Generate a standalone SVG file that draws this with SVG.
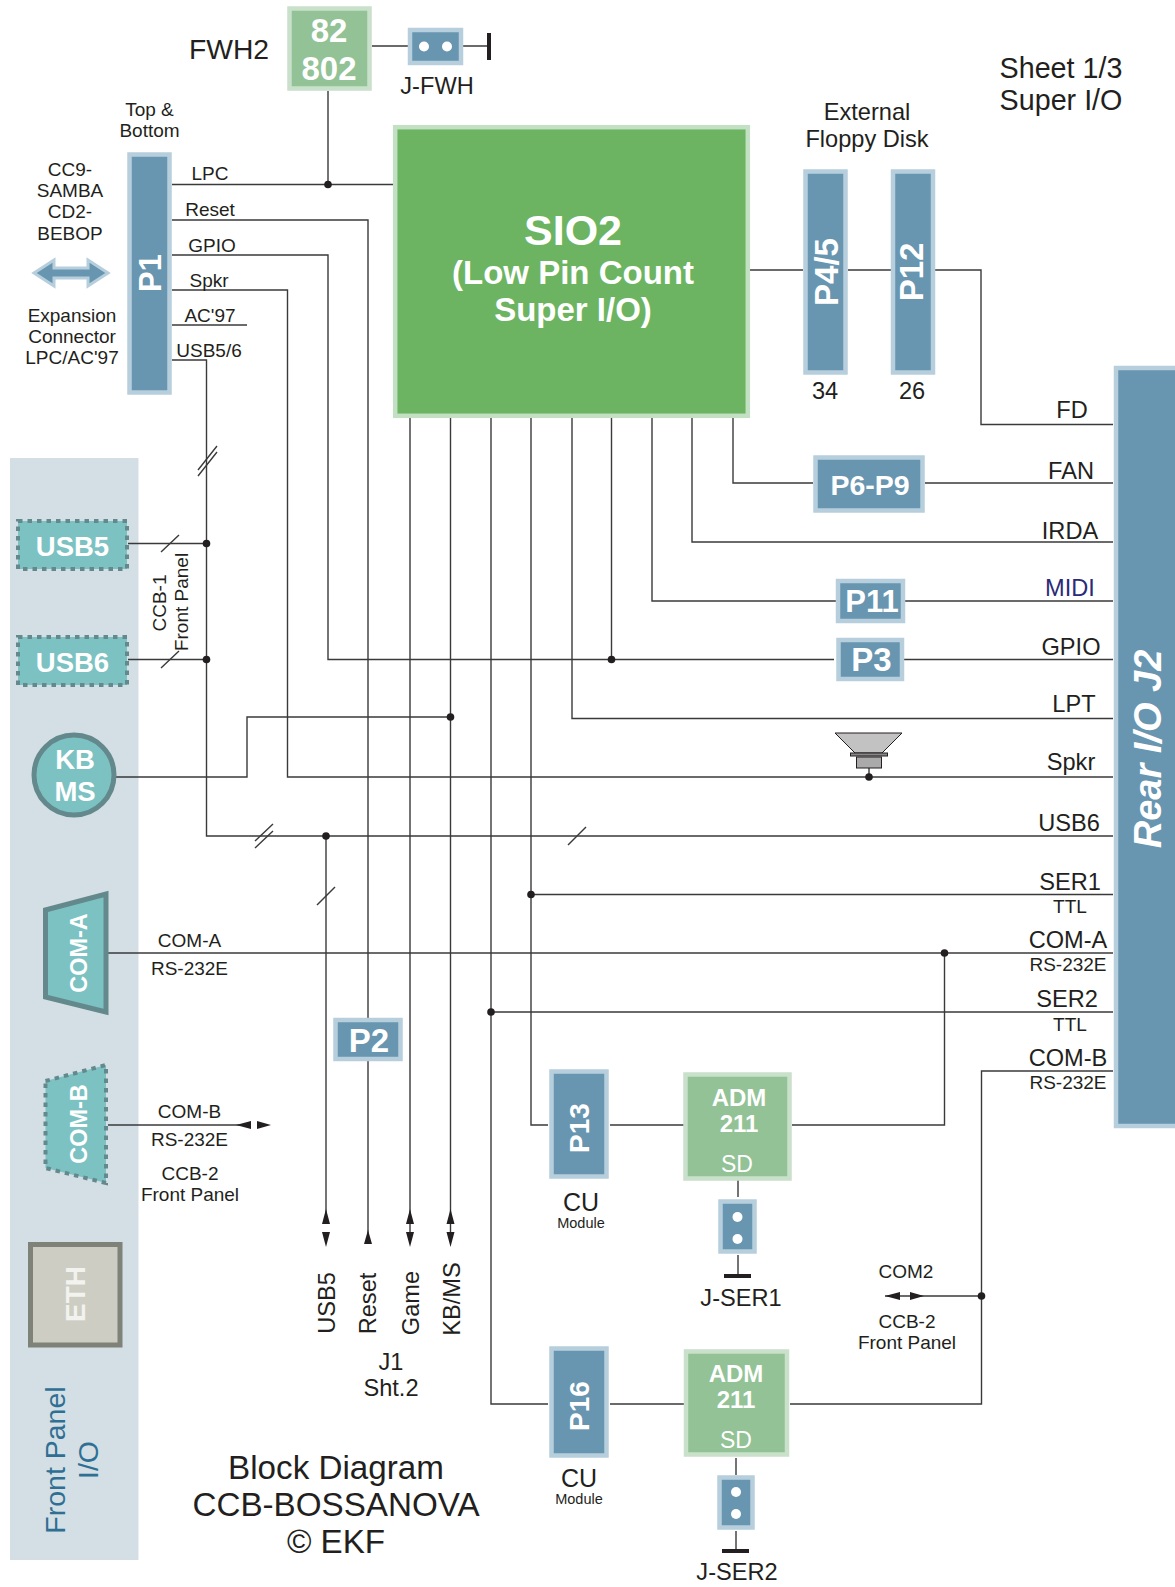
<svg xmlns="http://www.w3.org/2000/svg" width="1175" height="1587" viewBox="0 0 1175 1587">
<style>
text{font-family:"Liberation Sans",Arial,sans-serif;fill:#231f20;text-anchor:middle}
.w{fill:#fff;font-weight:bold}
.t19{font-size:19px}
.t23{font-size:23.600px}
.conn{fill:none;stroke:#3a3a3a;stroke-width:1.4}
.blue{fill:#6895b0;stroke:#b7cfdd;stroke-width:4.500}
.green{fill:#92c295;stroke:#c9e0cb;stroke-width:4.500}
.teal{fill:#7cc2c2;stroke:#64898c;stroke-width:5}
.tealdot{fill:#7cc2c2;stroke:#64898c;stroke-width:4;stroke-dasharray:4.500 5}
.dot{fill:#231f20}
.pin{fill:#fff}
</style>
<rect id="front-panel-bg" x="10" y="458" width="128.500" height="1102" fill="#d3dfe5"/>
<g id="connectors" class="conn">
<path d="M172 184.500H393M328 91V184.500"/>
<path d="M172 220H368V1240"/>
<path d="M172 255H328V659.500H834"/>
<path d="M172 290H287.500V777H1113"/>
<path d="M172 325H247"/>
<path d="M172 360H206.500V836H1113"/>
<path d="M128 543.500H206.500M128 659.500H206.500"/>
<path d="M116 777H247V717H450.500"/>
<path d="M410 418V1240M450.500 418V1240"/>
<path d="M491 418V1404H548M491 1012H1113"/>
<path d="M531 418V1125H548M531 894.500H1113"/>
<path d="M572 418V718.500H1113"/>
<path d="M611.500 418V659.500"/>
<path d="M652 418V601H836M904 601H1113"/>
<path d="M692 418V542H1113"/>
<path d="M733 418V483H813M925 483H1113"/>
<path d="M904 659.500H1113"/>
<path d="M750 270H803M848 270H891M935 270H981V424.500H1113"/>
<path d="M108 953H1113"/>
<path d="M108 1125H248"/>
<path d="M326 836V1218"/>
<path d="M610 1125H684M792 1125H944.500V953"/>
<path d="M610 1404H684M790 1404H981.500V1071H1113"/>
<path d="M885 1296H981.500"/>
<path d="M372 46H408M463 46H489"/>
<path d="M738 1180V1197M738 1255V1278M736 1458V1475M736 1531V1552"/>
<path d="M869 768V777"/>
<path d="M198 470L217 446M198 476L217 452"/>
<path d="M161 552L179 535M161 668L179 651"/>
<path d="M255 841L273 824M255 848L273 831"/>
<path d="M568 845L586 827"/>
<path d="M317 905L335 887"/>
</g>
<g id="junctions">
<circle class="dot" cx="328" cy="184.500" r="3.800"/>
<circle class="dot" cx="206.500" cy="543.500" r="3.800"/>
<circle class="dot" cx="206.500" cy="659.500" r="3.800"/>
<circle class="dot" cx="611.500" cy="659.500" r="3.800"/>
<circle class="dot" cx="450.500" cy="717" r="3.800"/>
<circle class="dot" cx="869" cy="777" r="3.800"/>
<circle class="dot" cx="326" cy="836" r="3.800"/>
<circle class="dot" cx="531" cy="894.500" r="3.800"/>
<circle class="dot" cx="944.500" cy="953" r="3.800"/>
<circle class="dot" cx="491" cy="1012" r="3.800"/>
<circle class="dot" cx="981.500" cy="1296" r="3.800"/>
</g>
<g id="arrowheads">
<path class="dot" d="M236 1125L251 1121V1129ZM271 1125L257 1121V1129Z"/>
<path class="dot" d="M885 1296L900 1292V1300ZM924 1296L910 1292V1300Z"/>
<path class="dot" d="M326 1209L322 1224H330ZM326 1247L322 1232H330Z"/>
<path class="dot" d="M368 1230L364 1244H372Z"/>
<path class="dot" d="M410 1209L406 1224H414ZM410 1247L406 1232H414Z"/>
<path class="dot" d="M450.500 1209L446.500 1224H454.500ZM450.500 1247L446.500 1232H454.500Z"/>
</g>
<g id="n-82802"><rect class="green" x="289.500" y="8.500" width="80" height="80"/><text class="w" x="329" y="42" font-size="33">82</text><text class="w" x="329" y="79.500" font-size="33">802</text></g>
<text x="229" y="59" font-size="28.300">FWH2</text>
<g id="n-jfwh"><rect class="blue" x="410" y="30" width="51" height="33"/><circle class="pin" cx="424" cy="46.500" r="5"/><circle class="pin" cx="447" cy="46.500" r="5"/><path d="M489 33V60" stroke="#231f20" stroke-width="4" fill="none"/><text class="t23" x="437" y="94">J-FWH</text></g>
<g id="n-p1"><rect class="blue" x="129.500" y="154.500" width="40" height="238"/><text class="w" transform="translate(161,273) rotate(-90)" font-size="31">P1</text></g>
<text class="t19" x="149.500" y="116">Top &amp;</text><text class="t19" x="149.500" y="137">Bottom</text>
<text class="t19" x="70" y="176">CC9-</text><text class="t19" x="70" y="197">SAMBA</text><text class="t19" x="70" y="218">CD2-</text><text class="t19" x="70" y="240">BEBOP</text>
<path id="exp-arrow" d="M34 273L54 260V268H88V260L108 273L88 286V278H54V286Z" fill="#6895b0" stroke="#b7cfdd" stroke-width="3"/>
<text class="t19" x="72" y="322">Expansion</text><text class="t19" x="72" y="343">Connector</text><text class="t19" x="72" y="364">LPC/AC'97</text>
<text class="t19" x="210" y="180">LPC</text><text class="t19" x="210" y="216">Reset</text><text class="t19" x="212" y="252">GPIO</text><text class="t19" x="209" y="287">Spkr</text><text class="t19" x="210" y="322">AC'97</text><text class="t19" x="209" y="357">USB5/6</text>
<g id="n-sio2"><rect x="395.200" y="127.200" width="352.600" height="288.600" fill="#6cb462" stroke="#c3dfc4" stroke-width="4.500"/><text class="w" x="573" y="245" font-size="43">SIO2</text><text class="w" x="573" y="284" font-size="33">(Low Pin Count</text><text class="w" x="573" y="321" font-size="33">Super I/O)</text></g>
<text class="t23" x="867" y="120">External</text><text class="t23" x="867" y="147">Floppy Disk</text>
<g id="n-p45"><rect class="blue" x="805.500" y="171.500" width="40" height="201"/><text class="w" transform="translate(838,272) rotate(-90)" font-size="33">P4/5</text></g>
<g id="n-p12"><rect class="blue" x="893" y="171.500" width="40" height="201"/><text class="w" transform="translate(923,272) rotate(-90)" font-size="33">P12</text></g>
<text class="t23" x="825" y="399">34</text><text class="t23" x="912" y="399">26</text>
<text x="1061" y="78" font-size="28.700">Sheet 1/3</text><text x="1061" y="110" font-size="28.700">Super I/O</text>
<g id="n-p69"><rect class="blue" x="815.500" y="457.500" width="107" height="53"/><text class="w" x="870" y="495" font-size="28.500">P6-P9</text></g>
<g id="n-p11"><rect class="blue" x="838" y="581" width="65" height="40"/><text class="w" x="872" y="612" font-size="31">P11</text></g>
<g id="n-p3"><rect class="blue" x="838.500" y="640" width="63.500" height="39"/><text class="w" x="871.500" y="671" font-size="33">P3</text></g>
<g id="n-rear"><rect class="blue" x="1116" y="368" width="70" height="758"/><text class="w" transform="translate(1161,749) rotate(-90)" font-size="38" font-style="italic">Rear I/O J2</text></g>
<text class="t23" x="1072" y="418">FD</text><text class="t23" x="1071" y="479">FAN</text><text class="t23" x="1070" y="539">IRDA</text><text class="t23" x="1070" y="596" style="fill:#2b2a78">MIDI</text><text class="t23" x="1071" y="655">GPIO</text><text class="t23" x="1074" y="712">LPT</text><text class="t23" x="1071" y="770">Spkr</text><text class="t23" x="1069" y="831">USB6</text><text class="t23" x="1070" y="890">SER1</text><text x="1070" y="913" font-size="19">TTL</text><text class="t23" x="1068" y="948">COM-A</text><text x="1068" y="971" font-size="19">RS-232E</text><text class="t23" x="1067" y="1007">SER2</text><text x="1070" y="1031" font-size="19">TTL</text><text class="t23" x="1068" y="1066">COM-B</text><text x="1068" y="1089" font-size="19">RS-232E</text>
<g id="n-speaker" stroke="#231f20" stroke-width="1"><path d="M835 733H902L882 753H855Z" fill="#c2c2c2"/><rect x="850.500" y="753" width="37" height="3" fill="#888"/><rect x="856.500" y="757" width="25" height="11" fill="#aaa"/></g>
<g id="n-usb5"><rect class="tealdot" x="18" y="521" width="109" height="48"/><text class="w" x="72.500" y="556" font-size="27.500">USB5</text></g>
<g id="n-usb6"><rect class="tealdot" x="18" y="637" width="109" height="48"/><text class="w" x="72.500" y="672" font-size="27.500">USB6</text></g>
<text class="t19" transform="translate(166,603) rotate(-90)">CCB-1</text><text class="t19" transform="translate(188,602) rotate(-90)">Front Panel</text>
<g id="n-kbms"><circle class="teal" cx="74" cy="775" r="40"/><text class="w" x="75" y="769" font-size="27.500">KB</text><text class="w" x="75" y="801" font-size="27.500">MS</text></g>
<g id="n-coma"><path class="teal" d="M45.500 910L106 894V1012L45.500 997Z"/><text class="w" transform="translate(87,953) rotate(-90)" font-size="23.500">COM-A</text></g>
<g id="n-comb"><path class="tealdot" d="M45.500 1081L106 1065V1183L45.500 1168Z"/><text class="w" transform="translate(87,1124) rotate(-90)" font-size="23.500">COM-B</text></g>
<text class="t19" x="189.500" y="947">COM-A</text><text class="t19" x="189.500" y="975">RS-232E</text>
<text class="t19" x="189.500" y="1118">COM-B</text><text class="t19" x="189.500" y="1146">RS-232E</text><text class="t19" x="190" y="1180">CCB-2</text><text class="t19" x="190" y="1201">Front Panel</text>
<g id="n-eth"><rect x="30.500" y="1244.500" width="89.500" height="100.500" fill="#cdcdc4" stroke="#7e8279" stroke-width="5"/><text class="w" transform="translate(84.500,1294) rotate(-90)" font-size="28" style="fill:#f2f2ee">ETH</text></g>
<g id="front-panel-label"><text transform="translate(65,1460) rotate(-90)" font-size="28.500" style="fill:#2f6f93">Front Panel</text><text transform="translate(98,1460) rotate(-90)" font-size="28.500" style="fill:#2f6f93">I/O</text></g>
<g id="n-p2"><rect class="blue" x="335.500" y="1020" width="65" height="39"/><text class="w" x="369" y="1052" font-size="33">P2</text></g>
<text class="t23" transform="translate(335,1303) rotate(-90)">USB5</text><text class="t23" transform="translate(376,1303.500) rotate(-90)">Reset</text><text class="t23" transform="translate(419,1303) rotate(-90)">Game</text><text class="t23" transform="translate(460,1299) rotate(-90)">KB/MS</text>
<text class="t23" x="391" y="1370">J1</text><text class="t23" x="391" y="1396">Sht.2</text>
<text x="336" y="1479" font-size="33.200">Block Diagram</text><text x="336" y="1516" font-size="33.200">CCB-BOSSANOVA</text><text x="336" y="1553" font-size="33.200">© EKF</text>
<g id="n-p13"><rect class="blue" x="551.500" y="1071.500" width="55" height="105"/><text class="w" transform="translate(589,1128) rotate(-90)" font-size="28">P13</text></g>
<text x="581" y="1211" font-size="25">CU</text><text x="581" y="1228" font-size="14.500">Module</text>
<g id="n-adm1"><rect class="green" x="685.500" y="1074.500" width="104" height="104"/><text class="w" x="739" y="1106" font-size="24">ADM</text><text class="w" x="739" y="1132" font-size="24">211</text><text x="737" y="1172" font-size="23" style="fill:#fff">SD</text></g>
<g id="n-jser1"><rect class="blue" x="720.500" y="1201.500" width="34" height="50"/><circle class="pin" cx="737.500" cy="1217" r="5"/><circle class="pin" cx="737.500" cy="1239" r="5"/><path d="M724 1276H751" stroke="#231f20" stroke-width="4"/><text class="t23" x="741" y="1306">J-SER1</text></g>
<g id="n-p16"><rect class="blue" x="551.500" y="1348.500" width="55" height="107"/><text class="w" transform="translate(589,1406) rotate(-90)" font-size="28">P16</text></g>
<text x="579" y="1487" font-size="25">CU</text><text x="579" y="1504" font-size="14.500">Module</text>
<g id="n-adm2"><rect class="green" x="686" y="1351.500" width="101" height="103"/><text class="w" x="736" y="1382" font-size="24">ADM</text><text class="w" x="736" y="1408" font-size="24">211</text><text x="736" y="1448" font-size="23" style="fill:#fff">SD</text></g>
<g id="n-jser2"><rect class="blue" x="719.500" y="1477.500" width="33" height="50"/><circle class="pin" cx="736" cy="1492" r="5"/><circle class="pin" cx="736" cy="1514" r="5"/><path d="M722 1551H749" stroke="#231f20" stroke-width="4"/><text class="t23" x="737" y="1580">J-SER2</text></g>
<text class="t19" x="906" y="1278">COM2</text><text class="t19" x="907" y="1328">CCB-2</text><text class="t19" x="907" y="1349">Front Panel</text>
</svg>
